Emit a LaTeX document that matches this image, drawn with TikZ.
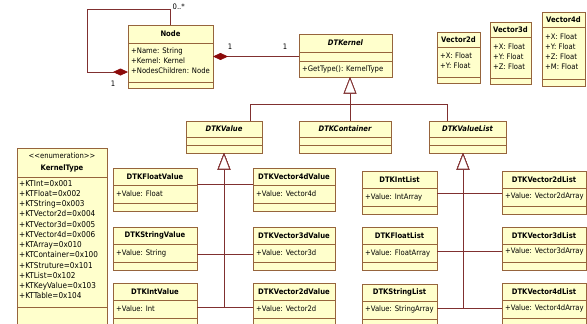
\documentclass[tikz,border=0pt]{standalone}
\usepackage{fontspec}
\setmainfont{DejaVu Sans Condensed}
\usetikzlibrary{arrows.meta}

\definecolor{boxfill}{RGB}{255,255,204}
\definecolor{boxdraw}{RGB}{150,100,60}
\definecolor{wire}{RGB}{128,48,48}
\definecolor{diamondred}{RGB}{140,10,10}

\tikzset{
  classbox/.style={draw=boxdraw, fill=boxfill, line width=0.8pt, inner sep=0pt, outer sep=0pt},
  compline/.style={draw=boxdraw, line width=0.8pt},
  titletext/.style={font=\fontsize{7.6}{9}\selectfont\bfseries, inner sep=0pt},
  abstracttext/.style={inner sep=0pt, font=\fontsize{7.6}{9}\selectfont\bfseries\itshape},
  enumtitle/.style={inner sep=0pt, align=center, font=\fontsize{7.6}{12}\selectfont\bfseries},
  bodytext/.style={font=\fontsize{7.6}{9}\selectfont, inner sep=0pt, text height=5.5pt, text depth=1.5pt},
  enumtext/.style={font=\fontsize{8.1}{9}\selectfont, inner sep=0pt, text height=5.5pt, text depth=1.5pt},
  mult/.style={font=\fontsize{7.6}{9}\selectfont, inner sep=0pt},
  wireline/.style={draw=wire, line width=0.8pt},
  gen/.style={wireline, -{Triangle[length=16.5pt, width=12.5pt, fill=white, line width=0.8pt]}},
  comp/.style={wireline, {Diamond[length=15pt, width=7pt, fill=diamondred, color=diamondred]}-},
}

% class box: name, left, top, right, bottom, first divider, second divider, title style, title
\newcommand\umlclass[9]{%
  \node[classbox, anchor=north west, minimum width={(#4)-(#2)}, minimum height={(#5)-(#3)}] (#1) at (#2,#3) {};
  \draw[compline] (#2,#6) -- (#4,#6) (#2,#7) -- (#4,#7);
  \node[#8] (#1-title) at ({(#2+#4)/2},{(#3+#6)/2}) {#9};
}
% compartment rows: [style], name, x, first row y, row step, list of rows
\newcommand\umlrows[6][bodytext]{%
  \foreach \txt [count=\k] in {#6} {\node[#1, anchor=west] (#2-\k) at (#3,{#4+(\k-1)*#5}) {\txt};}%
}

\begin{document}
\begin{tikzpicture}[x=1pt, y=-1pt]
\useasboundingbox (0,0) rectangle (587,324);
\fill[white] (0,0) rectangle (587,324);
\clip (0,0) rectangle (587,324);

% top row
\umlclass{Node}{128}{25}{213}{88}{43}{82}{titletext}{Node}
\umlrows{Node}{131}{51}{10}{+Name: String, +Kernel: Kernel, +NodesChildren: Node}

\umlclass{DTKernel}{299}{34}{392}{77}{52}{61}{abstracttext}{DTKernel}
\umlrows{DTKernel}{302}{69}{10}{+GetType(): KernelType}

\umlclass{Vector2d}{437}{32}{480}{83}{47}{77}{titletext}{Vector2d}
\umlrows{Vector2d}{440}{56}{10}{+X: Float, +Y: Float}

\umlclass{Vector3d}{490}{22}{531}{84}{37}{78}{titletext}{Vector3d}
\umlrows{Vector3d}{493}{47}{10.2}{+X: Float, +Y: Float, +Z: Float}

\umlclass{Vector4d}{542}{12}{585}{86}{27}{79}{titletext}{Vector4d}
\umlrows{Vector4d}{545}{37}{10.3}{+X: Float, +Y: Float, +Z: Float, +M: Float}

% enumeration
\umlclass{KernelType}{17}{148}{107}{340}{177}{307}{enumtitle}{{\mdseries <{}<enumeration>{}>}\\KernelType}
\umlrows[enumtext]{KernelType}{19}{184}{10.27}{+KTInt=0x001, +KTFloat=0x002, +KTString=0x003, +KTVector2d=0x004, +KTVector3d=0x005, +KTVector4d=0x006, +KTArray=0x010, +KTContainer=0x100, +KTStruture=0x101, +KTList=0x102, +KTKeyValue=0x103, +KTTable=0x104}

% abstract kernels
\umlclass{DTKValue}{186}{121}{262}{153}{137}{145}{abstracttext}{DTKValue}
\umlclass{DTKContainer}{299}{121}{391}{153}{137}{145}{abstracttext}{DTKContainer}
\umlclass{DTKValueList}{429}{121}{506}{153}{137}{145}{abstracttext}{DTKValueList}

% value kernels
\umlclass{DTKFloatValue}{113}{168}{197}{211.5}{185.5}{203}{titletext}{DTKFloatValue}
\umlrows{DTKFloatValue}{116}{194}{10}{+Value: Float}
\umlclass{DTKVector4dValue}{253}{168}{335}{211.5}{185.5}{203}{titletext}{DTKVector4dValue}
\umlrows{DTKVector4dValue}{256}{194}{10}{+Value: Vector4d}
\umlclass{DTKStringValue}{113}{227}{197}{270}{244.5}{262}{titletext}{DTKStringValue}
\umlrows{DTKStringValue}{116}{253}{10}{+Value: String}
\umlclass{DTKVector3dValue}{253}{227}{335}{270}{244.5}{262}{titletext}{DTKVector3dValue}
\umlrows{DTKVector3dValue}{256}{253}{10}{+Value: Vector3d}
\umlclass{DTKIntValue}{113}{283}{197}{327}{300.5}{318}{titletext}{DTKIntValue}
\umlrows{DTKIntValue}{116}{309}{10}{+Value: Int}
\umlclass{DTKVector2dValue}{253}{283}{335}{327}{300.5}{318}{titletext}{DTKVector2dValue}
\umlrows{DTKVector2dValue}{256}{309}{10}{+Value: Vector2d}

% list kernels
\umlclass{DTKIntList}{362}{171}{437}{214}{188.5}{206}{titletext}{DTKIntList}
\umlrows{DTKIntList}{365}{197}{10}{+Value: IntArray}
\umlclass{DTKVector2dList}{502}{171}{586}{214}{188.5}{206}{titletext}{DTKVector2dList}
\umlrows{DTKVector2dList}{505}{196}{10}{+Value: Vector2dArray}
\umlclass{DTKFloatList}{362}{227}{437}{270}{244.5}{262}{titletext}{DTKFloatList}
\umlrows{DTKFloatList}{365}{253}{10}{+Value: FloatArray}
\umlclass{DTKVector3dList}{502}{227}{586}{270}{244.5}{262}{titletext}{DTKVector3dList}
\umlrows{DTKVector3dList}{505}{251}{10}{+Value: Vector3dArray}
\umlclass{DTKStringList}{362}{284}{437}{327}{301.5}{319}{titletext}{DTKStringList}
\umlrows{DTKStringList}{365}{309}{10}{+Value: StringArray}
\umlclass{DTKVector4dList}{502}{283}{586}{327}{300.5}{318}{titletext}{DTKVector4dList}
\umlrows{DTKVector4dList}{505}{308}{10}{+Value: Vector4dArray}

% routing points
\coordinate (loopA) at (87,72);
\coordinate (loopB) at (87,9);
\coordinate (kbus) at (350,104);
\coordinate (xValue) at (250,0);
\coordinate (xList) at (447,0);
\coordinate (xLTrunk) at (463,0);
\coordinate (rowA) at (0,184);
\coordinate (rowB) at (0,254);
\coordinate (rowC) at (0,307);
\coordinate (rowD) at (0,193);
\coordinate (rowE) at (0,251);
\coordinate (rowF) at (0,308);

% compositions
\draw[comp] (Node.west |- loopA) -- (loopA) -- (loopB) -| (Node.north);
\draw[comp] (Node.east) -- (Node.east -| DTKernel.west);
\node[mult, anchor=west] (mLoopMany) at (172.5,7) {0..*};
\node[mult] (mLoopOne) at (113,84) {1};
\node[mult] (mNodeSide) at (230,47) {1};
\node[mult] (mKernelSide) at (285,47) {1};

% generalizations to DTKernel
\draw[gen] (DTKValue.north -| xValue) |- (kbus) -- (DTKernel.south -| kbus);
\draw[gen] (DTKContainer.north -| kbus) -- (DTKernel.south -| kbus);
\draw[gen] (DTKValueList.north -| xList) |- (kbus) -- (DTKernel.south -| kbus);

% generalizations to DTKValue
\draw[gen] (DTKFloatValue.east |- rowA) -| (DTKValue.south);
\draw[gen] (DTKVector4dValue.west |- rowA) -| (DTKValue.south);
\draw[gen] (DTKStringValue.east |- rowB) -| (DTKValue.south);
\draw[gen] (DTKVector3dValue.west |- rowB) -| (DTKValue.south);
\draw[gen] (DTKIntValue.east |- rowC) -| (DTKValue.south);
\draw[gen] (DTKVector2dValue.west |- rowC) -| (DTKValue.south);

% generalizations to DTKValueList
\draw[gen] (DTKIntList.east |- rowD) -| (DTKValueList.south -| xLTrunk);
\draw[gen] (DTKVector2dList.west |- rowD) -| (DTKValueList.south -| xLTrunk);
\draw[gen] (DTKFloatList.east |- rowE) -| (DTKValueList.south -| xLTrunk);
\draw[gen] (DTKVector3dList.west |- rowE) -| (DTKValueList.south -| xLTrunk);
\draw[gen] (DTKStringList.east |- rowF) -| (DTKValueList.south -| xLTrunk);
\draw[gen] (DTKVector4dList.west |- rowF) -| (DTKValueList.south -| xLTrunk);
\end{tikzpicture}
\end{document}
